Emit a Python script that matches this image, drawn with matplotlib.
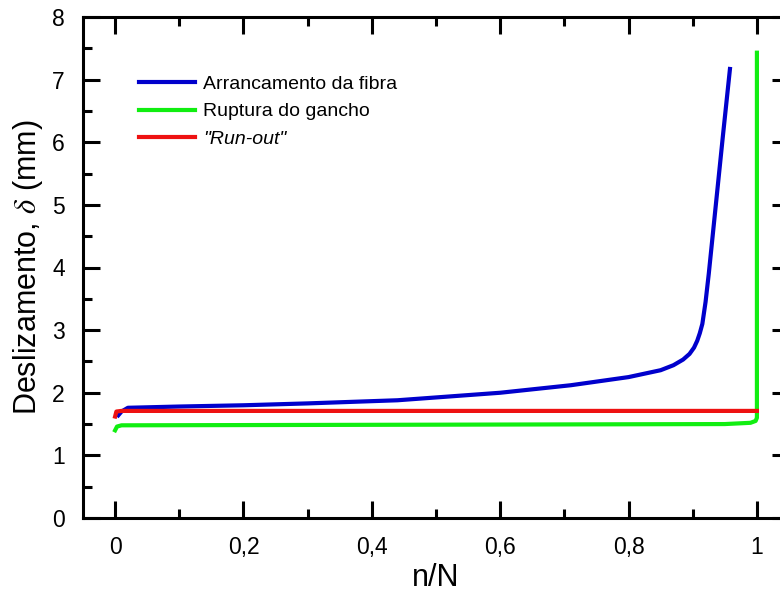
import matplotlib
matplotlib.use("Agg")
import matplotlib.pyplot as plt
from matplotlib.ticker import MultipleLocator, FuncFormatter

plt.rcParams['font.family'] = ['Liberation Sans', 'DejaVu Sans']
plt.rcParams['mathtext.fontset'] = 'stix'

# Arrancamento da fibra
x_arr = [0.005, 0.01, 0.02, 0.1, 0.2, 0.3, 0.44, 0.6, 0.71, 0.8, 0.85, 0.87, 0.885,
         0.895, 0.902, 0.907, 0.911, 0.915, 0.92, 0.925, 0.931, 0.939, 0.947, 0.958]
y_arr = [1.64, 1.70, 1.76, 1.78, 1.80, 1.83, 1.88, 2.00, 2.12, 2.25, 2.36, 2.44, 2.53,
         2.62, 2.72, 2.83, 2.95, 3.10, 3.45, 3.90, 4.50, 5.30, 6.10, 7.17]

# Ruptura do gancho
x_rup = [0.0, 0.003, 0.01, 0.5, 0.95, 0.99, 0.998, 1.0, 1.0]
y_rup = [1.40, 1.46, 1.48, 1.49, 1.50, 1.52, 1.55, 1.60, 7.43]

# "Run-out"
x_run = [0.0, 0.002, 0.01, 1.0]
y_run = [1.62, 1.70, 1.71, 1.71]

fig = plt.figure(figsize=(7.8, 6.0), dpi=100)
ax = fig.add_axes([83 / 780, 1 - 518 / 600, (789 - 83) / 780, (518 - 17) / 600])

ax.plot(x_arr, y_arr, color='#0000cc', lw=3.0, label='Arrancamento da fibra')
ax.plot(x_rup, y_rup, color='#11ee11', lw=3.0, label='Ruptura do gancho')
ax.plot(x_run, y_run, color='#ee1111', lw=3.0, label='"Run-out"')

ax.set_xlim(-0.05, 1.05)
ax.set_ylim(0, 8)
ax.xaxis.set_major_locator(MultipleLocator(0.2))
ax.xaxis.set_minor_locator(MultipleLocator(0.1))
ax.yaxis.set_major_locator(MultipleLocator(1))
ax.yaxis.set_minor_locator(MultipleLocator(0.5))
ax.xaxis.set_major_formatter(FuncFormatter(lambda v, p: ('%g' % round(v, 1)).replace('.', ',')))
ax.tick_params(which='both', direction='in', top=True, right=True, width=2.2, labelsize=16.5)
ax.tick_params(which='major', length=12.2, pad=13)
ax.tick_params(which='minor', length=6.5)
for s in ax.spines.values():
    s.set_linewidth(2.2)
ax.spines['right'].set_visible(False)

ax.set_xlabel('n/N', fontsize=22, labelpad=3)
ax.set_ylabel(r'Deslizamento, $\delta$ (mm)', fontsize=22, labelpad=5)

leg = ax.legend(loc='upper left', bbox_to_anchor=(139 / 780, 1 - 75 / 600),
                bbox_transform=fig.transFigure, frameon=False, fontsize=14,
                handlelength=2.9, handletextpad=0.4, labelspacing=0.52,
                borderpad=0, borderaxespad=0)
leg.get_texts()[2].set_style('italic')

fig.savefig('out.png', dpi=100)
